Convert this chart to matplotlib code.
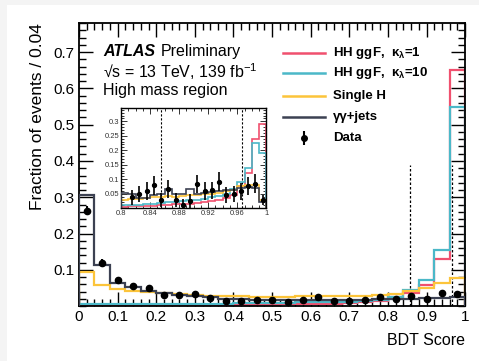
import numpy as np
import matplotlib
matplotlib.use("Agg")
import matplotlib.pyplot as plt
from matplotlib.patches import Rectangle
from matplotlib.ticker import MultipleLocator
from matplotlib.transforms import offset_copy

plt.rcParams["font.family"] = ["Liberation Sans", "DejaVu Sans"]
plt.rcParams["mathtext.fontset"] = "custom"
plt.rcParams["mathtext.rm"] = "Liberation Sans"
plt.rcParams["mathtext.it"] = "Liberation Sans:italic"
plt.rcParams["mathtext.bf"] = "Liberation Sans:bold"

# main plot: 25 bins of width 0.04
edges = np.linspace(0, 1, 26)
centers = 0.5 * (edges[1:] + edges[:-1])

hh_k1 = [0.001, 0.001, 0.001, 0.001, 0.001, 0.002, 0.002, 0.002, 0.003, 0.003,
         0.003, 0.004, 0.004, 0.005, 0.005, 0.006, 0.007, 0.008, 0.010, 0.013,
         0.024, 0.037, 0.057, 0.131, 0.650]
hh_k10 = [0.005, 0.005, 0.005, 0.005, 0.005, 0.005, 0.006, 0.006, 0.007, 0.007,
          0.008, 0.008, 0.009, 0.009, 0.010, 0.010, 0.011, 0.012, 0.013, 0.016,
          0.026, 0.044, 0.073, 0.156, 0.549]
single_h = [0.095, 0.058, 0.047, 0.041, 0.038, 0.036, 0.034, 0.031, 0.029, 0.028,
            0.027, 0.026, 0.026, 0.026, 0.027, 0.027, 0.028, 0.028, 0.029, 0.030,
            0.033, 0.042, 0.050, 0.064, 0.077]
gg_jets = [0.305, 0.113, 0.064, 0.053, 0.043, 0.035, 0.031, 0.027, 0.024, 0.021,
           0.019, 0.018, 0.017, 0.016, 0.016, 0.017, 0.018, 0.017, 0.018, 0.019,
           0.020, 0.021, 0.022, 0.022, 0.025]
data = [0.263, 0.119, 0.072, 0.056, 0.050, 0.031, 0.031, 0.034, 0.023, 0.015,
        0.015, 0.016, 0.017, 0.012, 0.016, 0.026, 0.015, 0.013, 0.016, 0.025,
        0.019, 0.028, 0.020, 0.036, 0.033]
data_err = [0.013, 0.010, 0.008, 0.007, 0.007, 0.005, 0.005, 0.006, 0.005, 0.004,
            0.004, 0.004, 0.004, 0.004, 0.004, 0.005, 0.004, 0.004, 0.004, 0.005,
            0.004, 0.005, 0.005, 0.006, 0.006]
xticks = [0, 0.1, 0.2, 0.3, 0.4, 0.5, 0.6, 0.7, 0.8, 0.9, 1.0]
xtick_labels = ["0", "0.1", "0.2", "0.3", "0.4", "0.5", "0.6", "0.7", "0.8", "0.9", "1"]
yticks = [0.1, 0.2, 0.3, 0.4, 0.5, 0.6, 0.7]
ytick_labels = ["0.1", "0.2", "0.3", "0.4", "0.5", "0.6", "0.7"]

# inset: 20 bins of width 0.01 in [0.8, 1]
edges_in = np.linspace(0.8, 1.0, 21)
centers_in = 0.5 * (edges_in[1:] + edges_in[:-1])
hh_k1_in = [0.005, 0.006, 0.006, 0.007, 0.008, 0.010, 0.011, 0.013, 0.015, 0.016,
            0.018, 0.020, 0.024, 0.028, 0.035, 0.045, 0.075, 0.120, 0.240, 0.290]
hh_k10_in = [0.010, 0.011, 0.012, 0.014, 0.016, 0.018, 0.020, 0.022, 0.025, 0.027,
             0.030, 0.033, 0.038, 0.043, 0.050, 0.065, 0.090, 0.140, 0.225, 0.190]
single_h_in = [0.030, 0.031, 0.033, 0.035, 0.037, 0.040, 0.041, 0.040, 0.043, 0.045,
               0.046, 0.048, 0.050, 0.052, 0.058, 0.062, 0.078, 0.080, 0.080, 0.030]
gg_jets_in = [0.052, 0.048, 0.035, 0.036, 0.046, 0.050, 0.065, 0.050, 0.050, 0.065,
              0.050, 0.052, 0.055, 0.060, 0.062, 0.062, 0.070, 0.072, 0.070, 0.022]
data_in = [np.nan, 0.037, 0.050, 0.060, 0.079, 0.028, 0.066, 0.028, 0.010, 0.025,
           0.083, 0.060, 0.062, 0.091, 0.045, 0.050, 0.058, 0.076, 0.085, 0.028]
data_in_err = [0.03, 0.026, 0.028, 0.03, 0.032, 0.025, 0.03, 0.025, 0.022, 0.025,
               0.032, 0.03, 0.03, 0.033, 0.027, 0.028, 0.03, 0.031, 0.032, 0.018]
xticks_in = [0.8, 0.84, 0.88, 0.92, 0.96, 1.0]
xtick_labels_in = ["0.8", "0.84", "0.88", "0.92", "0.96", "1"]
yticks_in = [0.05, 0.1, 0.15, 0.2, 0.25, 0.3]
ytick_labels_in = ["0.05", "0.1", "0.15", "0.2", "0.25", "0.3"]

c_k1 = "#f0506e"
c_k10 = "#4bb8c8"
c_h = "#fcc43a"
c_gg = "#3c4152"

fig = plt.figure(figsize=(4.79, 3.61), dpi=100)
fig.patch.set_facecolor("#f4f4f4")
fig.add_artist(Rectangle((7 / 479, 0), 1, 1 - 5 / 361, transform=fig.transFigure,
                         facecolor="white", edgecolor="none", zorder=-10))

ax = fig.add_axes([0.165, 0.152, 0.806, 0.784])

ax.stairs(hh_k1, edges, color=c_k1, lw=1.6, zorder=2)
ax.stairs(hh_k10, edges, color=c_k10, lw=1.6, zorder=2)
ax.stairs(single_h, edges, color=c_h, lw=1.6, zorder=2)
ax.stairs(gg_jets, edges, color=c_gg, lw=1.6, zorder=3)
ax.errorbar(centers, data, yerr=data_err, fmt="o", color="black", ms=4.5,
            elinewidth=1.5, capsize=0, zorder=4)
for xv in (0.856, 0.966):
    ax.plot([xv, xv], [0, 0.39], ls=(0, (2, 1.6)), color="black", lw=0.9, zorder=1)

ax.set_xlim(0, 1)
ax.set_ylim(0, 0.78)
ax.set_xticks(xticks)
ax.set_xticklabels(xtick_labels)
ax.set_yticks(yticks)
ax.set_yticklabels(ytick_labels)
ax.xaxis.set_minor_locator(MultipleLocator(0.02))
ax.yaxis.set_minor_locator(MultipleLocator(0.02))
ax.tick_params(which="both", direction="in", top=True, right=True, width=1.0,
               labelsize=11, pad=3)
ax.tick_params(which="major", length=10)
ax.tick_params(which="minor", length=5)
for s in ax.spines.values():
    s.set_linewidth(1.3)
ax.set_xlabel("BDT Score", fontsize=11.5, loc="right", labelpad=6)
ax.set_ylabel("Fraction of events / 0.04", fontsize=12.5, loc="top", labelpad=6)

t = ax.text(0.062, 0.898, "ATLAS", transform=ax.transAxes, fontsize=11.5,
            fontweight="bold", style="italic", va="center")
fig.canvas.draw()
w = t.get_window_extent().width
ax.text(0.062, 0.898, "Preliminary", fontsize=11.5, va="center",
        transform=offset_copy(ax.transAxes, fig=fig, x=w * 72 / 100 + 4, y=0, units="points"))
ax.text(0.062, 0.830, "√s = 13 TeV, 139 fb$^{-1}$", transform=ax.transAxes,
        fontsize=11.5, va="center")
ax.text(0.062, 0.762, "High mass region", transform=ax.transAxes,
        fontsize=11.5, va="center")

# legend drawn by hand for even row spacing
leg_labels = ["HH ggF,  κ$_{\\mathregular{λ}}$=1", "HH ggF,  κ$_{\\mathregular{λ}}$=10",
              "Single H", "γγ+jets", "Data"]
leg_colors = [c_k1, c_k10, c_h, c_gg, "black"]
leg_y = [0.894, 0.823, 0.742, 0.668, 0.594]
for lab, col, yy in zip(leg_labels, leg_colors, leg_y):
    if lab == "Data":
        ax.errorbar([0.5825], [yy], yerr=[0.025], fmt="o", color="black", ms=4,
                    elinewidth=1.5, transform=ax.transAxes, clip_on=False)
    else:
        ax.plot([0.528, 0.637], [yy, yy], color=col, lw=1.8, transform=ax.transAxes)
    ax.text(0.658, yy, lab, transform=ax.transAxes, fontsize=9.5, fontweight="bold",
            va="center")

# inset
axin = ax.inset_axes([0.109, 0.346, 0.376, 0.353])
axin.stairs(hh_k1_in, edges_in, color=c_k1, lw=1.2, zorder=2)
axin.stairs(hh_k10_in, edges_in, color=c_k10, lw=1.2, zorder=2)
axin.stairs(single_h_in, edges_in, color=c_h, lw=1.2, zorder=2)
axin.stairs(gg_jets_in, edges_in, color=c_gg, lw=1.2, zorder=3)
axin.errorbar(centers_in, data_in, yerr=data_in_err, fmt="o", color="black", ms=2.8,
              elinewidth=1.2, capsize=0, zorder=4)
for xv in (0.855, 0.967):
    axin.axvline(xv, ls=(0, (2, 1.6)), color="black", lw=0.8, zorder=1)
axin.set_xlim(0.8, 1.0)
axin.set_ylim(0, 0.345)
axin.set_xticks(xticks_in)
axin.set_xticklabels(xtick_labels_in)
axin.xaxis.set_minor_locator(MultipleLocator(0.01))
axin.set_yticks(yticks_in)
axin.set_yticklabels(ytick_labels_in)
axin.yaxis.set_minor_locator(MultipleLocator(0.01))
axin.tick_params(which="both", direction="in", top=True, right=True, width=0.7,
                 labelsize=5.5, pad=1.5, colors="#333333")
axin.tick_params(which="major", length=4)
axin.tick_params(which="minor", length=2)
for s in axin.spines.values():
    s.set_linewidth(1.0)

fig.savefig("out.png", dpi=100, facecolor=fig.get_facecolor())
